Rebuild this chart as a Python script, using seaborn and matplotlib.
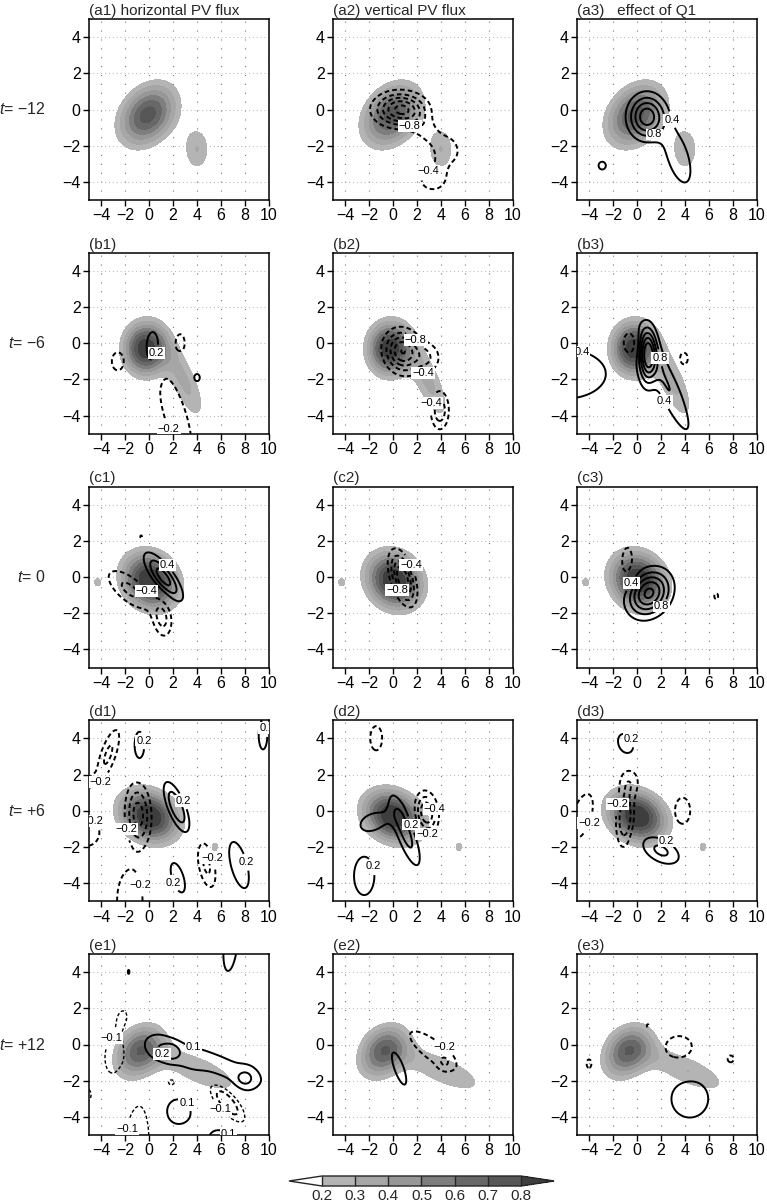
import numpy as np
import matplotlib
matplotlib.use("Agg")
import matplotlib.pyplot as plt
import matplotlib.transforms as mtransforms
from matplotlib.colors import ListedColormap, BoundaryNorm
from matplotlib.cm import ScalarMappable
import seaborn as sns

# ---------------- data ----------------
# each feature: (x centre, y centre, amplitude, spread along major axis, spread along minor axis, major-axis angle deg)
shade_a = [(-0.1, -0.3, 0.75, 1.75, 1.1, 20), (4.0, -2.2, 0.30, 1.0, 0.9, 90)]
shade_b = [(-0.3, -0.3, 0.90, 1.25, 1.0, 0), (3.0, -2.2, 0.32, 2.0, 0.8, -54)]
shade_c = [(0.1, -0.2, 0.95, 1.6, 1.05, -10), (-4.3, -0.3, 0.25, 0.3, 0.25, 0)]
shade_d = [(0.0, -0.3, 0.95, 1.7, 0.95, -10), (5.5, -2.0, 0.25, 0.3, 0.3, 0)]
shade_e = [(-0.8, -0.4, 0.65, 1.5, 0.95, 20), (4.2, -1.45, 0.30, 3.0, 0.72, -15)]

a1_lines = []
a2_lines = [(0.6, 0.0, -2.0, 1.4, 0.6, 0), (3.0, -1.3, -0.55, 1.7, 0.55, -30),
            (4.7, -2.2, -0.4, 0.7, 0.55, 0), (4.0, -3.0, -0.35, 0.5, 0.5, 0),
            (3.3, -3.9, -0.6, 1.0, 0.55, 0)]
a3_lines = [(0.8, -0.4, 1.85, 1.0, 0.8, 0), (3.4, -2.6, 0.7, 1.5, 0.75, -60),
            (-2.9, -3.1, 0.5, 0.45, 0.32, 0)]
b1_lines = [(0.3, -0.3, 0.35, 1.0, 0.6, 90), (-2.6, -1.0, -0.30, 0.55, 0.55, 0),
            (2.6, 0.0, -0.28, 0.6, 0.45, 90), (2.6, -1.2, 0.26, 0.4, 0.35, 0),
            (4.0, -1.9, 0.25, 0.35, 0.3, 0), (2.2, -4.0, -0.35, 2.3, 0.8, -63)]
b2_lines = [(0.8, -0.45, -2.0, 1.0, 0.75, -10), (2.9, -0.8, -0.7, 0.8, 0.6, 0),
            (3.9, -3.7, -1.1, 0.74, 0.53, 90)]
b3_lines = [(-0.6, 0.0, -0.9, 0.5, 0.45, 90), (0.9, -0.7, 2.0, 1.0, 0.5, 90),
            (2.5, -2.3, 0.8, 2.5, 0.6, -55), (3.9, -0.85, -0.5, 0.5, 0.5, 0),
            (-6.0, -1.7, 0.76, 3.0, 1.2, 0)]
c1_lines = [(1.2, 0.0, 1.4, 1.27, 0.45, -38), (-1.6, -0.7, -0.9, 1.5, 0.55, -25),
            (1.1, -2.3, -0.9, 0.75, 0.55, -70), (-0.66, 2.2, -0.46, 0.3, 0.3, 0)]
c2_lines = [(0.8, -0.05, -2.0, 1.0, 0.55, -60)]
c3_lines = [(-0.8, 0.8, -0.6, 0.9, 0.5, 90), (1.0, -0.9, 2.1, 1.2, 0.8, 15),
            (6.6, -1.06, -0.46, 0.3, 0.3, 0)]
d1_lines = [(-3.4, 3.1, -0.45, 1.2, 0.45, 60), (-4.8, 1.6, -0.2, 0.4, 0.4, 0),
            (-0.8, 3.6, 0.30, 0.85, 0.45, 90), (9.5, 4.2, 0.30, 0.9, 0.4, 90),
            (-0.9, -0.2, -0.7, 1.15, 0.7, 95), (2.3, 0.2, 0.6, 1.1, 0.45, -55),
            (-5.2, -1.2, -0.35, 1.0, 0.7, 0), (4.8, -3.0, -0.45, 1.0, 0.5, -70),
            (7.5, -3.0, 0.35, 1.3, 0.6, -65), (2.4, -3.7, 0.30, 1.0, 0.5, -60),
            (-1.6, -5.0, -0.35, 1.6, 1.0, 90)]
d2_lines = [(-1.4, 4.0, -0.3, 0.75, 0.55, 90), (2.8, -0.1, -0.8, 0.75, 0.6, -70),
            (1.0, -1.1, 0.5, 1.6, 0.5, -60), (-1.6, -0.6, 0.3, 1.2, 0.5, 10),
            (-2.4, -3.6, 0.35, 1.0, 0.8, 90)]
d3_lines = [(-0.95, 3.7, 0.3, 0.75, 0.55, -30), (-1.0, -0.4, -0.6, 1.1, 0.5, 85),
            (-0.6, 1.6, -0.3, 0.65, 0.6, 0), (-4.6, -0.3, -0.3, 1.5, 0.8, 60),
            (3.8, 0.0, -0.3, 0.8, 0.7, 90), (2.0, -2.2, 0.45, 1.2, 0.5, -15)]
e1_lines = [(-1.7, 4.0, 0.13, 0.25, 0.15, 90), (6.8, 5.5, 0.16, 1.5, 0.57, 80),
            (-2.6, 0.2, -0.16, 1.9, 1.0, 70), (4.3, -0.9, 0.16, 4.5, 0.65, -12),
            (8.2, -1.9, 0.10, 0.6, 0.5, 0), (0.8, -0.2, 0.08, 0.8, 0.6, 0),
            (1.9, -0.4, 0.12, 0.5, 0.35, 0), (7.7, -1.95, 0.05, 0.5, 0.3, 0),
            (-1.45, -1.85, 0.13, 0.45, 0.35, 0), (1.9, -2.1, -0.13, 0.5, 0.3, 0),
            (6.5, -3.2, -0.3, 1.2, 0.45, -35), (2.4, -3.7, 0.15, 1.1, 0.75, 0),
            (-1.0, -5.3, -0.16, 2.0, 1.0, 80), (6.3, -5.6, 0.16, 1.4, 0.8, -20),
            (-4.0, -5.5, 0.14, 0.8, 0.6, 0), (-5.2, -2.8, -0.13, 0.4, 0.4, 0)]
e2_lines = [(0.5, -1.3, 0.3, 1.15, 0.4, -60), (3.3, -0.3, -0.3, 2.3, 0.65, -25),
            (4.3, -1.0, -0.2, 0.4, 0.3, 0)]
e3_lines = [(0.9, 1.04, -0.22, 0.15, 0.15, 0), (3.5, -0.2, -0.3, 1.3, 0.75, 0),
            (-4.0, -1.06, -0.25, 0.35, 0.3, 90), (7.8, -0.8, -0.25, 0.4, 0.3, 0),
            (4.4, -3.0, 0.3, 1.7, 1.15, 0)]

# contour levels
shade_levels = [0.2, 0.3, 0.4, 0.5, 0.6, 0.7, 0.8]
line_levels_01 = [-0.3, -0.2, -0.1, 0.1, 0.2, 0.3]
line_levels_02 = [-1.0, -0.8, -0.6, -0.4, -0.2, 0.2, 0.4, 0.6, 0.8, 1.0]
line_levels_04 = [-2.0, -1.6, -1.2, -0.8, -0.4, 0.4, 0.8, 1.2, 1.6, 2.0]

# labelled levels per panel
a1_labels = []
a2_labels = [-0.8, -0.4]
a3_labels = [0.4, 0.8]
b1_labels = [-0.2, 0.2]
b2_labels = [-0.8, -0.4]
b3_labels = [-0.4, 0.4, 0.8]
c1_labels = [-0.4, 0.4]
c2_labels = [-0.8, -0.4]
c3_labels = [0.4, 0.8]
d1_labels = [-0.2, 0.2]
d2_labels = [-0.4, -0.2, 0.2]
d3_labels = [-0.2, 0.2]
e1_labels = [-0.2, -0.1, 0.1, 0.2]
e2_labels = [-0.4, -0.2]
e3_labels = [-0.2]

col_titles = ["horizontal PV flux", "vertical PV flux", "  effect of Q1"]
row_letters = ["a", "b", "c", "d", "e"]
row_times = ["\u221212", "\u22126", "0", "+6", "+12"]
xticks = [-4, -2, 0, 2, 4, 6, 8, 10]
yticks = [-4, -2, 0, 2, 4]
cbar_ticks = [0.2, 0.3, 0.4, 0.5, 0.6, 0.7, 0.8]

# ---------------- style ----------------
sns.set_theme(style="ticks")
plt.rcParams["font.family"] = ["Liberation Sans", "DejaVu Sans"]
plt.rcParams["mathtext.fontset"] = "custom"
plt.rcParams["mathtext.it"] = "Liberation Sans:italic"
plt.rcParams["mathtext.rm"] = "Liberation Sans"
plt.rcParams["axes.unicode_minus"] = True
plt.rcParams["lines.dashed_pattern"] = [2.4, 1.6]

grey_fill = ["#b4b4b4", "#a6a6a6", "#979797", "#7e7e7e", "#686868", "#575757"]
cmap = ListedColormap(grey_fill).with_extremes(under="white", over="#3e3e3e")
norm = BoundaryNorm(shade_levels, cmap.N)

xg = np.linspace(-5, 10, 376)
yg = np.linspace(-5, 5, 251)
X, Y = np.meshgrid(xg, yg)


def field(blobs):
    Z = np.zeros_like(X)
    for (x0, y0, a, s1, s2, ang) in blobs:
        th = np.deg2rad(ang)
        dx, dy = X - x0, Y - y0
        u = dx * np.cos(th) + dy * np.sin(th)
        v = -dx * np.sin(th) + dy * np.cos(th)
        Z += a * np.exp(-0.5 * ((u / s1) ** 2 + (v / s2) ** 2))
    return Z


def fmt(v):
    return f"{v:.1f}".replace("-", "\u2212")


shades = [shade_a, shade_b, shade_c, shade_d, shade_e]
lines = [[a1_lines, a2_lines, a3_lines], [b1_lines, b2_lines, b3_lines],
         [c1_lines, c2_lines, c3_lines], [d1_lines, d2_lines, d3_lines],
         [e1_lines, e2_lines, e3_lines]]
labels = [[a1_labels, a2_labels, a3_labels], [b1_labels, b2_labels, b3_labels],
          [c1_labels, c2_labels, c3_labels], [d1_labels, d2_labels, d3_labels],
          [e1_labels, e2_labels, e3_labels]]
levels = [[line_levels_02, line_levels_04, line_levels_04],
          [line_levels_02, line_levels_04, line_levels_04],
          [line_levels_04, line_levels_04, line_levels_04],
          [line_levels_02, line_levels_02, line_levels_02],
          [line_levels_01, line_levels_02, line_levels_02]]

W, H = 767, 1203
fig = plt.figure(figsize=(W / 100, H / 100), dpi=100)
col_left = [89, 333, 577]
ax_w, ax_h = 180, 181

for i in range(5):
    Zs = field(shades[i])
    for j in range(3):
        top = 19 + i * 233.75
        ax = fig.add_axes([col_left[j] / W, 1 - (top + ax_h) / H, ax_w / W, ax_h / H])
        ax.set_axisbelow(True)
        ax.contourf(X, Y, Zs, levels=shade_levels, cmap=cmap, norm=norm, extend="max", zorder=1)

        lv = levels[i][j]
        blobs = lines[i][j]
        if blobs:
            Zl = field(blobs)
            lws = [1.0 if (-0.15 < l < 0) else 1.4 for l in lv]
            lss = ["dashed" if l < 0 else "solid" for l in lv]
            cs = ax.contour(X, Y, Zl, levels=lv, colors="black", linewidths=lws,
                            linestyles=lss, zorder=3)
            present = [l for l in labels[i][j] if (Zl.min() < l < Zl.max())]
            if present:
                txts = ax.clabel(cs, levels=present, fmt=fmt, fontsize=8,
                                 inline=True, inline_spacing=1)
                for t in txts:
                    t.set_rotation(0)
                    t.set_bbox(dict(boxstyle="square,pad=0.08", fc="white", ec="none"))
                    t.set_zorder(5)

        ax.set_xlim(-5, 10)
        ax.set_ylim(-5, 5)
        ax.set_xticks(xticks)
        ax.set_yticks(yticks)
        ax.xaxis.grid(True, color="#777777", linestyle=(0, (1, 7)), linewidth=0.8)
        ax.yaxis.grid(True, color="#b0b0b0", linestyle=(0, (1, 3)), linewidth=0.7)
        ax.tick_params(direction="out", length=4, width=1, labelsize=11.5, pad=2, colors="black")
        for sp in ax.spines.values():
            sp.set_linewidth(1.1)
            sp.set_color("black")
        title = f"({row_letters[i]}{j + 1})"
        if i == 0:
            title += " " + col_titles[j]
        ax.set_title(title, loc="left", fontsize=11, pad=3)
        if j == 0:
            trans = mtransforms.blended_transform_factory(ax.transAxes, ax.transData)
            ax.text(-0.24, 0, r"$t$= " + row_times[i], transform=trans,
                    ha="right", va="center", fontsize=11.5)

cax = fig.add_axes([289 / W, 1 - 1186 / H, 265 / W, 10 / H])
sm = ScalarMappable(norm=norm, cmap=cmap)
cb = fig.colorbar(sm, cax=cax, orientation="horizontal", extend="both",
                  extendfrac=0.166, ticks=cbar_ticks, drawedges=True)
cb.outline.set_linewidth(1.0)
cb.dividers.set_linewidth(1.0)
cb.ax.tick_params(length=0, labelsize=11, pad=2)
cb.ax.set_xticklabels([f"{t:.1f}" for t in cbar_ticks])

fig.savefig("out.png", dpi=100)
